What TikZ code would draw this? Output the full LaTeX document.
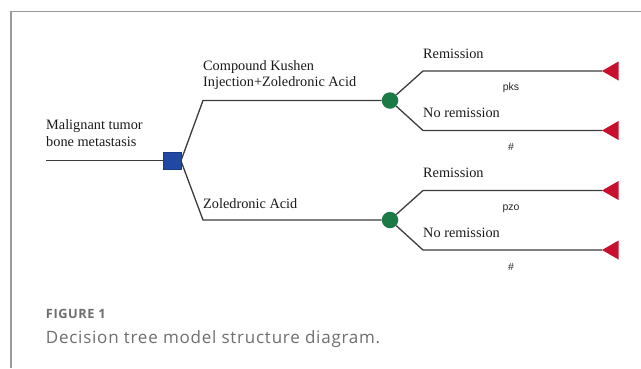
\documentclass[tikz,border=0pt]{standalone}
\usepackage{fontspec}
\setmainfont{Liberation Serif}
\newfontfamily\lblfont{Liberation Sans}
\newfontfamily\capfont[LetterSpace=4.5]{Open Sans}
\definecolor{decblue}{HTML}{2149A3}
\definecolor{chgreen}{HTML}{1B7A45}
\definecolor{endred}{HTML}{C8102E}
\definecolor{linegray}{HTML}{3C3C3C}
\definecolor{framegray}{HTML}{9A9A9A}
\definecolor{capgray}{HTML}{6E6E6E}
\begin{document}
\begin{tikzpicture}[x=1pt,y=-1pt,
  branch/.style={draw=linegray,line width=1.3pt},
  decnode/.style={rectangle,fill=decblue,draw=decblue!80!black,line width=0.4pt,minimum size=17.5pt,inner sep=0pt},
  chnode/.style={circle,fill=chgreen,minimum size=16.5pt,inner sep=0pt},
  endtri/.style={fill=endred},
  treetxt/.style={font=\fontsize{14.3pt}{17pt}\selectfont,inner sep=0pt,anchor=base west,text=black!90},
  probtxt/.style={font=\lblfont\fontsize{10.5pt}{12pt}\selectfont,inner sep=0pt,anchor=base,text=black!85}]
\useasboundingbox (0,0) rectangle (641,368);
% frame
\draw[framegray,line width=1.3pt] (641,11.7) -- (11,11.7) -- (11,368);
% root
\coordinate (s) at (46,160.8);
\node[decnode] (dec) at (172,160.8) {};
\draw[branch] (s) -- (dec);
\node[treetxt] (tm1) at (46,129.3) {Malignant tumor};
\node[treetxt] (tm2) at (46,146.9) {bone metastasis};
% upper strategy
\coordinate (u1) at (203,100.5);
\node[chnode] (c1) at (390,100.5) {};
\draw[branch] (dec.east) -- (u1) -- (c1);
\node[treetxt] (ck1) at (203,70) {Compound Kushen};
\node[treetxt] (ck2) at (203,86.7) {Injection+Zoledronic Acid};
% lower strategy
\coordinate (l1) at (203,220);
\node[chnode] (c2) at (390,220) {};
\draw[branch] (dec.east) -- (l1) -- (c2);
\node[treetxt] (zo) at (203,208.3) {Zoledronic Acid};
% outcomes upper
\coordinate (r1) at (423,71);
\coordinate (e1) at (602,71);
\coordinate (r2) at (423,130.5);
\coordinate (e2) at (602,130.5);
\draw[branch] (c1) -- (r1) -- (e1);
\draw[branch] (c1) -- (r2) -- (e2);
\fill[endtri] (e1) -- ++(16.5,-9.5) -- ++(0,19) -- cycle;
\fill[endtri] (e2) -- ++(16.5,-9.5) -- ++(0,19) -- cycle;
\node[treetxt] (rm1) at (423,58.3) {Remission};
\node[treetxt] (nr1) at (423,117.5) {No remission};
\node[probtxt] (p1) at (511,90) {pks};
\node[probtxt] (h1) at (511,150.5) {\#};
% outcomes lower
\coordinate (r3) at (423,190.5);
\coordinate (e3) at (602,190.5);
\coordinate (r4) at (423,250);
\coordinate (e4) at (602,250);
\draw[branch] (c2) -- (r3) -- (e3);
\draw[branch] (c2) -- (r4) -- (e4);
\fill[endtri] (e3) -- ++(16.5,-9.5) -- ++(0,19) -- cycle;
\fill[endtri] (e4) -- ++(16.5,-9.5) -- ++(0,19) -- cycle;
\node[treetxt] (rm2) at (423,177.8) {Remission};
\node[treetxt] (nr2) at (423,237.3) {No remission};
\node[probtxt] (p2) at (511,210) {pzo};
\node[probtxt] (h2) at (511,270.5) {\#};
% caption
\node[font=\capfont\bfseries\fontsize{12.8pt}{14pt}\selectfont,text=capgray,inner sep=0pt,anchor=base west] (fig) at (45.7,318) {FIGURE 1};
\node[font=\capfont\fontsize{17pt}{19pt}\selectfont,text=capgray,inner sep=0pt,anchor=base west] (cap) at (45.7,343.3) {Decision tree model structure diagram.};
\end{tikzpicture}
\end{document}
